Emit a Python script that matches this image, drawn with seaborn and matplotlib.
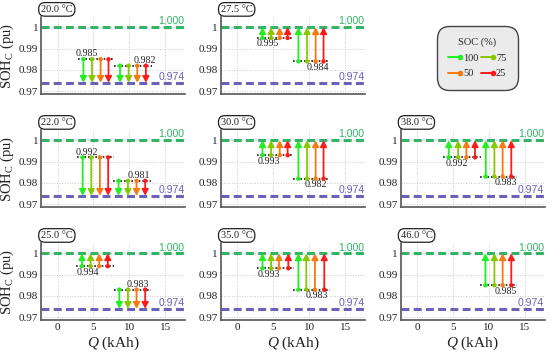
import matplotlib
matplotlib.use('Agg')
import matplotlib.pyplot as plt
import seaborn as sns
import pandas as pd
from matplotlib.lines import Line2D
from matplotlib.legend_handler import HandlerBase
from matplotlib.ticker import FixedLocator, FixedFormatter

# ---------------- data ----------------
temps = ['20.0', '22.0', '25.0', '27.5', '30.0', '35.0', '38.0', '46.0']
grid_pos = [(0, 0), (1, 0), (2, 0), (0, 1), (1, 1), (2, 1), (1, 2), (2, 2)]
soc_levels = ['100', '75', '50', '25']
soc_colors = ['#22ee22', '#88c800', '#f57a10', '#ff1a1a']
soh_upper = 1.000
soh_lower = 0.974

group_start = [[0.985, 0.982], [0.992, 0.981], [0.994, 0.983], [0.995, 0.984],
               [0.993, 0.982], [0.993, 0.983], [0.992, 0.983], [0.985]]
group_end = [[0.974, 0.974], [0.974, 0.974], [1.0, 0.974], [1.0, 1.0],
             [1.0, 1.0], [1.0, 1.0], [1.0, 1.0], [1.0]]
group_q = [
    [[3.6, 4.8, 6.0, 7.1], [8.7, 9.9, 11.1, 12.3]],
    [[3.5, 4.7, 5.9, 7.05], [8.5, 9.8, 11.0, 12.2]],
    [[3.4, 4.6, 5.8, 7.0], [8.6, 9.8, 11.0, 12.2]],
    [[3.5, 4.7, 5.9, 7.0], [8.5, 9.7, 10.9, 12.0]],
    [[3.5, 4.7, 5.9, 7.0], [8.5, 9.7, 10.9, 12.0]],
    [[3.5, 4.7, 5.8, 7.1], [8.5, 9.6, 10.8, 12.1]],
    [[4.4, 5.7, 6.85, 8.05], [9.55, 10.75, 11.9, 13.1]],
    [[9.5, 10.75, 11.9, 13.1]],
]
label_q = [[4.1, 12.1], [4.1, 11.3], [4.2, 11.2], [4.3, 11.2],
           [4.4, 10.95], [4.4, 11.1], [5.5, 12.3], [12.3]]
label_side = [['above', 'above'], ['above', 'above'], ['below', 'above'],
              ['below', 'below'], ['below', 'below'], ['below', 'below'],
              ['below', 'below'], ['below']]
xticks = [0, 5, 10, 15]
yticks = [0.97, 0.98, 0.99, 1.0]
ytick_labels = ['0.97', '0.98', '0.99', '1']

# ---------------- style ----------------
sns.set_theme(style='white')
plt.rcParams['font.family'] = ['Liberation Serif', 'DejaVu Serif']
plt.rcParams['mathtext.fontset'] = 'custom'
plt.rcParams['mathtext.rm'] = 'Liberation Serif'
plt.rcParams['mathtext.it'] = 'Liberation Serif:italic'

upper_color = '#33b366'
lower_color = '#6a62b8'

fig, axes = plt.subplots(3, 3, figsize=(5.5, 3.56), dpi=100)
fig.subplots_adjust(left=0.0745, right=0.991, bottom=0.101, top=0.952,
                    wspace=0.245, hspace=0.47)
axes[0, 2].axis('off')

for i, t in enumerate(temps):
    r, c = grid_pos[i]
    ax = axes[r, c]
    ax.set_xlim(-2.3, 17.8)
    ax.set_ylim(0.9687, 1.0048)
    ax.xaxis.set_major_locator(FixedLocator(xticks))
    ax.yaxis.set_major_locator(FixedLocator(yticks))
    ax.yaxis.set_major_formatter(FixedFormatter(ytick_labels))
    ax.grid(True, color='#c8c8c8', linestyle=':', linewidth=0.7)
    for s in ['top', 'right']:
        ax.spines[s].set_visible(False)
    for s in ['left', 'bottom']:
        ax.spines[s].set_color('#555555')
        ax.spines[s].set_linewidth(1.2)
    ax.tick_params(axis='both', direction='in', length=2, width=0.8,
                   color='#555555', labelsize=8, pad=2, labelcolor='#222222')
    if r != 2:
        ax.tick_params(axis='x', labelbottom=False)

    # reference lines
    ax.axhline(soh_upper, color=upper_color, lw=2.2, ls=(0, (2.6, 1.4)), zorder=1)
    ax.axhline(soh_lower, color=lower_color, lw=2.2, ls=(0, (2.6, 1.4)), zorder=1)
    ax.text(0.995, soh_upper + 0.0004, f'{soh_upper:.3f}', color=upper_color,
            transform=ax.get_yaxis_transform(), ha='right', va='bottom',
            fontsize=7.6, family='Liberation Sans')
    ax.text(0.995, soh_lower + 0.0004, f'{soh_lower:.3f}', color=lower_color,
            transform=ax.get_yaxis_transform(), ha='right', va='bottom',
            fontsize=7.6, family='Liberation Sans')

    rows = []
    for g, y0 in enumerate(group_start[i]):
        y1 = group_end[i][g]
        qs = group_q[i][g]
        ax.plot([qs[0] - 0.8, qs[-1] + 0.8], [y0, y0], color='k', lw=1.2,
                ls=(0, (1, 1.2)), zorder=2)
        for k, q in enumerate(qs):
            ax.annotate('', xy=(q, y1), xytext=(q, y0),
                        arrowprops=dict(arrowstyle='-|>,head_length=0.6,head_width=0.32',
                                        color=soc_colors[k], lw=1.3,
                                        mutation_scale=6, shrinkA=0, shrinkB=0),
                        zorder=3)
            rows.append({'Q': q, 'SOH': y0, 'SOC': soc_levels[k]})
        if label_side[i][g] == 'above':
            ax.text(label_q[i][g], y0 + 0.0004, f'{y0:.3f}', ha='center',
                    va='bottom', fontsize=7.2, color='#222222', zorder=4)
        else:
            ax.text(label_q[i][g], y0 - 0.0007, f'{y0:.3f}', ha='center',
                    va='top', fontsize=7.2, color='#222222', zorder=4)
    df = pd.DataFrame(rows)
    sns.scatterplot(data=df, x='Q', y='SOH', hue='SOC', hue_order=soc_levels,
                    palette=soc_colors, s=10, linewidth=0, legend=False,
                    ax=ax, zorder=4)
    if r == 2:
        ax.set_xlabel('$Q$ (kAh)', fontsize=11, labelpad=2, color='#222222')
    else:
        ax.set_xlabel('')
    if c == 0:
        ax.set_ylabel('SOH$_\\mathrm{C}$ (pu)', fontsize=10.5, labelpad=2,
                      color='#222222')
    else:
        ax.set_ylabel('')

    ax.text(0.0, 1.1, f'{t} °C', transform=ax.transAxes, ha='left', va='center',
            fontsize=7.5, color='#222222', zorder=6,
            bbox=dict(boxstyle='round,pad=0.22,rounding_size=0.6', fc='white',
                      ec='#222222', lw=0.9))


class EndDotHandler(HandlerBase):
    def create_artists(self, legend, orig, xdescent, ydescent, width, height,
                       fontsize, trans):
        y = height / 2 - ydescent
        line = Line2D([-xdescent, -xdescent + width], [y, y],
                      color=orig.get_color(), lw=1.4)
        dot = Line2D([-xdescent + width], [y], marker='o', ms=3,
                     color=orig.get_color(), lw=0)
        line.set_transform(trans)
        dot.set_transform(trans)
        return [line, dot]


order = [0, 2, 1, 3]
handles = [Line2D([0], [0], color=soc_colors[k]) for k in order]
labels = [soc_levels[k] for k in order]
leg = fig.legend(handles, labels, title='SOC (%)', ncol=2,
                 loc='center', bbox_to_anchor=(0.868, 0.837),
                 handler_map={Line2D: EndDotHandler()},
                 fontsize=7.5, title_fontsize=7.5, handlelength=1.1,
                 handletextpad=0.3, columnspacing=0.3, labelspacing=0.6,
                 borderpad=0.8, frameon=True, fancybox=True)
fr = leg.get_frame()
fr.set_facecolor('#ebebeb')
fr.set_edgecolor('#444444')
fr.set_linewidth(1.0)
fr.set_alpha(1)
fr.set_boxstyle('round', pad=0.3, rounding_size=1.2)

fig.savefig('out.png', dpi=100)
